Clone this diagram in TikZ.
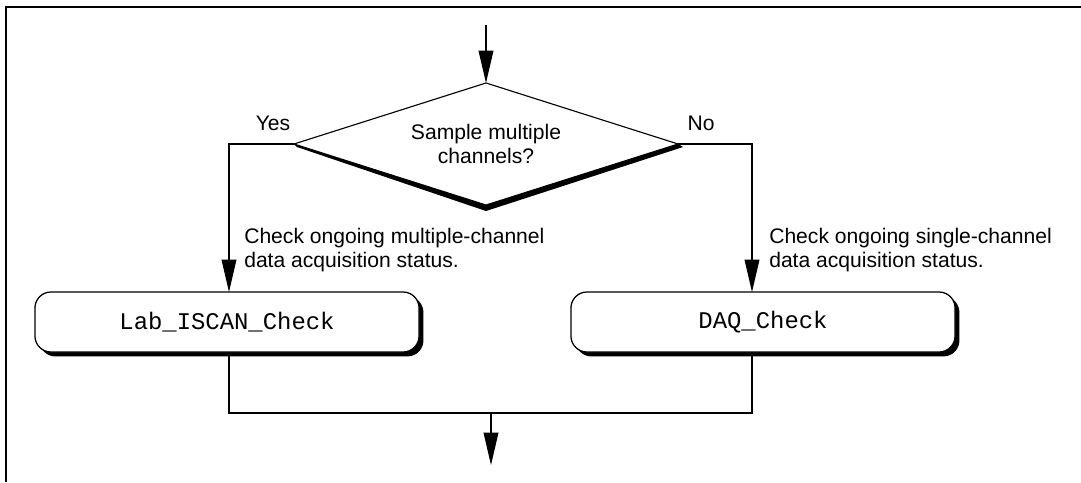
\documentclass[tikz,border=0pt]{standalone}
\usepackage{fontspec}
\setmainfont{Liberation Sans}
\setmonofont{Liberation Mono}
\usepackage{tikz}
\usetikzlibrary{shapes.geometric,shadows,arrows.meta}

\begin{document}
\begin{tikzpicture}[x=0.025cm, y=-0.025cm, font=\fontsize{15}{16.5}\selectfont]
    \tikzstyle{decision} = [diamond, aspect=3.15, draw, line width=0.8pt, fill=white, minimum width=9.6cm, minimum height=3.05cm, inner sep=0pt, outer sep=0pt, align=center]
    \tikzstyle{task} = [rectangle, rounded corners=0.4cm, draw, line width=0.9pt, fill=white, minimum width=9.6cm, minimum height=1.5cm, outer sep=0pt, font=\ttfamily\fontsize{17}{20}\selectfont, drop shadow={shadow xshift=1.1mm, shadow yshift=-1.1mm, opacity=1, fill=black}]
    \tikzstyle{note} = [anchor=west, align=left, inner sep=0pt]
    \tikzstyle{flow} = [line width=0.8pt, -{Triangle[length=23pt, width=10.5pt]}]
    \tikzstyle{link} = [line width=0.8pt]

    \useasboundingbox (0,0) rectangle (1081,482);

    % Frame
    \draw [line width=1.5pt] (6,482) -- (6,7) -- (1081,7);

    % Decision
    \node [decision] (choice) at (486,144) {Sample multiple\\channels?};
    \fill (choice.west) -- (choice.south) -- (choice.east) -- ([shift={(5,3)}]choice.east) -- ([shift={(0,6)}]choice.south) -- ([shift={(3,3)}]choice.west) -- cycle;
    \node (yes) at (273,123) {Yes};
    \node (no) at (701,123) {No};

    % Checks
    \node [task] (iscan) at (227,322) {Lab\_ISCAN\_Check};
    \node [task] (daq) at (763,322) {DAQ\_Check};
    \node [note] (multinote) at (244,250) {Check ongoing multiple-channel\\data acquisition status.};
    \node [note] (singlenote) at (769,250) {Check ongoing single-channel\\data acquisition status.};

    % Entry and exit
    \coordinate (entry) at (486,25);
    \coordinate (join) at (491,413);
    \coordinate (exit) at (491,465);

    % Connections
    \draw [flow] (entry) -- (choice.north);
    \draw [flow] (choice.west) -| ([xshift=0.05cm]iscan.north);
    \draw [flow] (choice.east) -| ([xshift=-0.275cm]daq.north);
    \draw [link] ([xshift=0.05cm]iscan.south) |- (join);
    \draw [link] ([xshift=-0.275cm]daq.south) |- (join);
    \draw [flow] (join) -- (exit);
\end{tikzpicture}
\end{document}
